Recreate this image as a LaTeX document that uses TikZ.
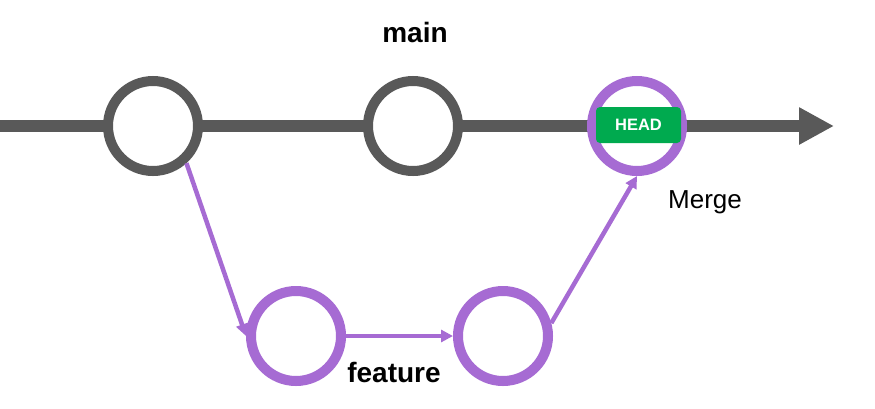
\documentclass[tikz,border=0pt]{standalone}
\usepackage{fontspec}
\setmainfont{Liberation Sans}
\usetikzlibrary{arrows.meta}
\definecolor{ggray}{HTML}{595959}
\definecolor{gpurple}{HTML}{A66BD3}
\definecolor{ggreen}{HTML}{00AA4F}
\begin{document}
\begin{tikzpicture}[x=1pt,y=-1pt,
  commitg/.style={circle,draw=ggray,line width=10pt,fill=white,minimum size=90pt,inner sep=0pt},
  commitp/.style={circle,draw=gpurple,line width=10pt,fill=white,minimum size=90pt,inner sep=0pt},
  branch/.style={draw=gpurple,line width=4.5pt,-{Triangle[length=12pt,width=12pt]}},
  lbl/.style={font=\fontsize{26}{30}\selectfont,anchor=base,inner sep=0pt},
  blbl/.style={font=\fontsize{28}{32}\selectfont\bfseries,anchor=base,inner sep=0pt}]
\useasboundingbox (0,0) rectangle (875,408);
\coordinate (start) at (0,126);
\coordinate (end) at (834,126);
\draw[ggray,line width=11.5pt,-{Triangle[length=35pt,width=35pt]}] (start) -- (end);
\node[commitg] (c1) at (153,126) {};
\node[commitg] (c2) at (413,126) {};
\node[commitp] (m) at (637,126) {};
\node[commitp] (f1) at (296,336) {};
\node[commitp] (f2) at (503,336) {};
\node[fill=ggreen,rounded corners=4pt,minimum width=85pt,minimum height=36pt,inner sep=0pt,
  text=white,font=\fontsize{16.5}{18}\selectfont\bfseries] (head) at (638.5,125) {HEAD};
\draw[branch] (c1.-48) -- (f1.west);
\draw[branch] (f1.east) -- (f2.west);
\draw[branch] (f2.15) -- (m.south);
\node[blbl] (lmain) at (415,42) {main};
\node[blbl] (lfeat) at (394,382) {feature};
\node[lbl] (lmerge) at (705,208) {Merge};
\end{tikzpicture}
\end{document}
